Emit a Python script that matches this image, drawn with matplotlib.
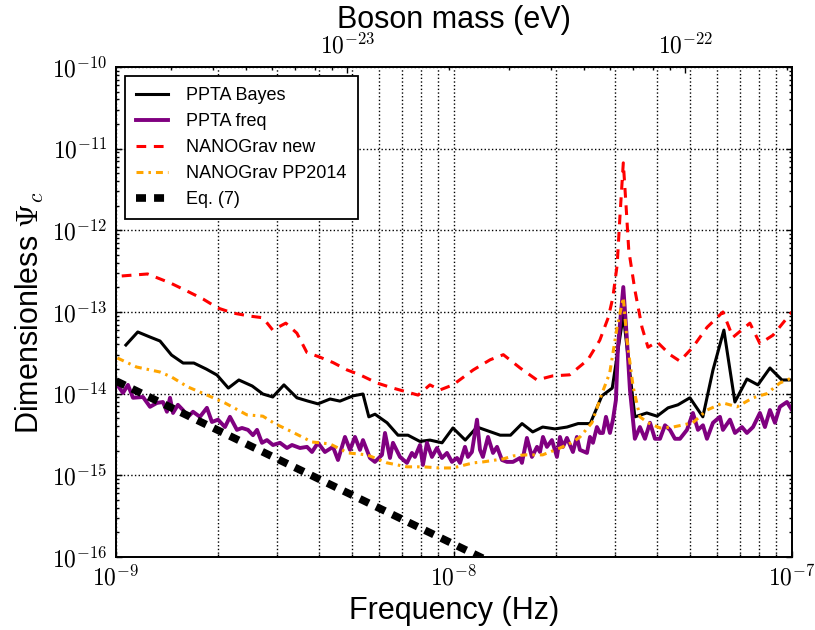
import numpy as np
import matplotlib
matplotlib.use("Agg")
import matplotlib.pyplot as plt
from matplotlib.ticker import FixedLocator, FuncFormatter, NullFormatter

plt.rcParams['font.family'] = ['Liberation Sans', 'DejaVu Sans']
plt.rcParams['mathtext.fontset'] = 'cm'
plt.rcParams['lines.scale_dashes'] = False

# ---------------- data ----------------
# PPTA Bayesian upper limit (frequency in nHz)
f_bayes_nhz = [1.07, 1.16, 1.26, 1.35, 1.46, 1.58, 1.70, 1.85, 1.99, 2.15,
               2.31, 2.53, 2.72, 2.91, 3.14, 3.43, 3.70, 3.96, 4.30, 4.60,
               5.03, 5.38, 5.60, 5.84, 6.34, 6.83, 7.31, 7.93, 8.49, 9.22,
               9.93, 10.8, 11.7, 12.6, 13.7, 14.7, 15.9, 17.1, 18.3, 19.9,
               21.6, 23.3, 25.3, 27.4, 29.4, 31.7, 34.3, 37.2, 39.9, 43.0,
               46.0, 49.9, 54.5, 58.4, 62.9, 67.8, 73.6, 79.3, 86.1, 93.4,
               100.0]
psi_bayes = [3.94e-14, 5.69e-14, 4.94e-14, 4.41e-14, 2.97e-14, 2.37e-14, 2.37e-14, 2.0e-14, 1.69e-14, 1.17e-14,
             1.47e-14, 1.24e-14, 9.9e-15, 9.1e-15, 1.28e-14, 8.9e-15, 8.1e-15, 7.5e-15, 8.6e-15, 8.1e-15,
             9.4e-15, 9.9e-15, 5.2e-15, 5.6e-15, 4.4e-15, 3.1e-15, 3.1e-15, 2.6e-15, 2.7e-15, 2.5e-15,
             3.8e-15, 2.7e-15, 3.9e-15, 3.5e-15, 3.1e-15, 3.1e-15, 4.3e-15, 3.4e-15, 3.9e-15, 3.7e-15,
             3.9e-15, 4.3e-15, 4.3e-15, 9.4e-15, 1.17e-14, 9.2e-14, 5.2e-15, 5.8e-15, 5.3e-15, 6.7e-15,
             7.3e-15, 8.9e-15, 5.2e-15, 1.95e-14, 6.0e-14, 7.9e-15, 1.51e-14, 1.28e-14, 2.06e-14, 1.47e-14,
             1.47e-14]

# PPTA frequentist upper limit
f_freq_nhz = [1.000, 1.049, 1.085, 1.123, 1.202, 1.261, 1.322, 1.377, 1.415, 1.445,
              1.475, 1.525, 1.578, 1.633, 1.690, 1.772, 1.858, 1.923, 2.004, 2.101,
              2.174, 2.280, 2.359, 2.458, 2.543, 2.614, 2.704, 2.797, 2.914, 3.057,
              3.206, 3.317, 3.503, 3.674, 3.802, 3.959, 4.152, 4.386, 4.538, 4.759,
              4.924, 5.095, 5.272, 5.380, 5.642, 5.837, 6.124, 6.251, 6.467, 6.600,
              6.922, 7.259, 7.510, 7.665, 7.932, 8.095, 8.320, 8.608, 8.906, 9.215,
              9.535, 9.865, 10.21, 10.42, 10.78, 11.00, 11.30, 11.70, 11.94, 12.18,
              12.61, 13.05, 13.41, 13.87, 14.35, 14.95, 15.68, 15.89, 16.44, 17.01,
              17.61, 17.97, 18.34, 18.84, 19.49, 20.17, 20.59, 21.02, 21.59, 22.49,
              23.11, 23.59, 24.75, 25.26, 25.78, 26.49, 27.04, 27.59, 28.17, 28.94,
              29.54, 30.15, 30.56, 31.7, 32.50, 33.17, 34.3, 35.5, 36.74, 38.02,
              39.33, 40.7, 42.11, 43.56, 45.07, 46.63, 48.91, 50.94, 52.71, 54.54,
              56.05, 58.40, 61.24, 62.5, 65.56, 67.84, 71.13, 73.58, 76.7, 80.4,
              83.2, 86.09, 89.06, 92.1, 96.65, 100.0]
psi_freq = [1.35e-14, 1.02e-14, 1.28e-14, 8.9e-15, 9.1e-15, 6.9e-15, 7.7e-15, 7.9e-15, 6.0e-15, 8.9e-15,
            5.8e-15, 7.3e-15, 6.3e-15, 5.2e-15, 6.0e-15, 5.2e-15, 6.7e-15, 4.5e-15, 4.8e-15, 3.9e-15,
            5.2e-15, 3.6e-15, 3.8e-15, 3.6e-15, 3.1e-15, 3.6e-15, 2.5e-15, 2.7e-15, 2.35e-15, 2.5e-15,
            2.16e-15, 2.35e-15, 2.16e-15, 2.23e-15, 1.93e-15, 2.5e-15, 1.93e-15, 2.23e-15, 1.54e-15, 2.95e-15,
            2.05e-15, 2.95e-15, 2.05e-15, 2.7e-15, 1.63e-15, 1.46e-15, 1.78e-15, 3.3e-15, 1.63e-15, 2.5e-15,
            1.68e-15, 1.42e-15, 1.88e-15, 1.68e-15, 2.35e-15, 1.34e-15, 2.5e-15, 1.68e-15, 2.16e-15, 1.63e-15,
            1.88e-15, 1.46e-15, 1.63e-15, 1.42e-15, 2.23e-15, 1.68e-15, 1.93e-15, 4.8e-15, 2.05e-15, 1.68e-15,
            2.95e-15, 1.88e-15, 2.23e-15, 1.54e-15, 1.46e-15, 1.46e-15, 1.63e-15, 1.42e-15, 2.87e-15, 1.68e-15,
            2.23e-15, 1.93e-15, 2.95e-15, 2.23e-15, 2.7e-15, 1.68e-15, 2.95e-15, 2.23e-15, 2.87e-15, 1.93e-15,
            2.95e-15, 2.05e-15, 1.88e-15, 2.95e-15, 2.5e-15, 3.9e-15, 3.3e-15, 3.3e-15, 5.2e-15, 3.3e-15,
            4.8e-15, 8.4e-15, 3.73e-14, 2.02e-13, 4.54e-14, 1.11e-14, 2.8e-15, 3.9e-15, 2.8e-15, 4.4e-15,
            2.8e-15, 2.8e-15, 4.1e-15, 3.6e-15, 2.8e-15, 2.8e-15, 3.6e-15, 5.8e-15, 3.6e-15, 4.1e-15,
            2.8e-15, 4.4e-15, 5.2e-15, 3.6e-15, 4.8e-15, 3.3e-15, 3.9e-15, 3.3e-15, 3.9e-15, 5.8e-15,
            3.9e-15, 6.3e-15, 4.4e-15, 6.9e-15, 7.9e-15, 6.3e-15]

# NANOGrav new limit
f_ng_new_nhz = [1.04, 1.24, 1.45, 1.62, 1.81, 2.00, 2.22, 2.49, 2.72, 2.91,
                3.18, 3.43, 3.67, 4.01, 4.39, 4.83, 5.27, 5.92, 6.60, 7.83,
                8.49, 9.09, 9.93, 11.4, 12.8, 14.0, 15.7, 17.6, 19.6, 22.0,
                24.9, 27.0, 28.6, 29.5, 30.4, 31.0, 31.7, 32.3, 32.9, 34.3,
                36.0, 37.5, 39.9, 43.6, 46.6, 50.9, 56.1, 62.5, 66.9, 75.1,
                80.4, 87.9, 100.0]
psi_ng_new = [2.76e-13, 2.92e-13, 2.26e-13, 1.81e-13, 1.44e-13, 1.12e-13, 9.7e-14, 8.9e-14, 8.5e-14, 6.0e-14,
              7.3e-14, 5.5e-14, 3.2e-14, 2.8e-14, 2.4e-14, 1.95e-14, 1.7e-14, 1.35e-14, 1.17e-14, 9.6e-15,
              1.28e-14, 1.11e-14, 1.28e-14, 1.95e-14, 2.6e-14, 3.0e-14, 2.06e-14, 1.47e-14, 1.65e-14, 1.7e-14,
              2.6e-14, 4.5e-14, 8.5e-14, 1.48e-13, 3.76e-13, 1.54e-12, 6.7e-12, 2.0e-12, 5.7e-13, 1.86e-13,
              6.5e-14, 3.7e-14, 4.3e-14, 3.0e-14, 2.5e-14, 3.7e-14, 6.5e-14, 1.0e-13, 4.9e-14, 7.3e-14,
              4.1e-14, 5.2e-14, 1.0e-13]

# NANOGrav PP2014 limit
f_ng_pp_nhz = [1.01, 1.15, 1.35, 1.46, 1.63, 1.86, 2.10, 2.44, 2.72, 2.95,
               3.32, 3.80, 4.30, 4.86, 5.53, 6.34, 7.26, 8.10, 9.09, 9.93,
               11.4, 12.2, 14.0, 15.0, 16.4, 18.3, 20.6, 22.5, 23.6, 25.6,
               27.4, 28.9, 30.4, 31.7, 32.5, 33.9, 35.5, 37.5, 40.7, 44.5,
               50.9, 56.1, 62.5, 68.8, 76.7, 84.3, 92.1, 100.0]
psi_ng_pp = [2.73e-14, 2.12e-14, 1.84e-14, 1.6e-14, 1.21e-14, 9.6e-15, 7.7e-15, 5.5e-15, 5.3e-15, 4.3e-15,
             3.4e-15, 2.56e-15, 2.42e-15, 1.88e-15, 1.78e-15, 1.42e-15, 1.27e-15, 1.27e-15, 1.23e-15, 1.23e-15,
             1.42e-15, 1.46e-15, 1.59e-15, 1.73e-15, 1.78e-15, 1.78e-15, 2.16e-15, 2.56e-15, 2.95e-15, 4.4e-15,
             1.0e-14, 1.79e-14, 6.55e-14, 1.5e-13, 4.54e-14, 1.21e-14, 5.2e-15, 4.4e-15, 3.8e-15, 3.9e-15,
             4.4e-15, 6.3e-15, 7.7e-15, 6.9e-15, 8.9e-15, 1.0e-14, 1.35e-14, 1.56e-14]

# Eq. (7): power law, end points of the straight line in log-log
f_eq7_nhz = [1.0, 100.0]
psi_eq7 = [1.43e-14, 1.43e-18]

# tick positions
freq_major = [1e-9, 1e-8, 1e-7]
psi_major = [1e-16, 1e-15, 1e-14, 1e-13, 1e-12, 1e-11, 1e-10]
mass_major = [1e-23, 1e-22]

NHZ = 1e-9
HBAR_EV_S = 6.582e-16   # reduced Planck constant, eV s


def freq_to_mass(f):
    return np.pi * HBAR_EV_S * np.asarray(f)


def power_label(v, pos):
    return r'$10^{%d}$' % int(round(np.log10(v)))


def minor_positions(lo, hi):
    out = []
    for e in range(int(np.floor(np.log10(lo))) - 1, int(np.ceil(np.log10(hi))) + 1):
        for s in range(2, 10):
            v = s * 10.0 ** e
            if lo < v < hi:
                out.append(v)
    return out


fig = plt.figure(figsize=(8.15, 6.3), dpi=100)
ax = fig.add_axes([0.1423, 0.1159, 0.8294, 0.7778])

ax.plot(np.array(f_bayes_nhz) * NHZ, psi_bayes, color='k', lw=2.2,
        label='PPTA Bayes')
ax.plot(np.array(f_freq_nhz) * NHZ, psi_freq, color='#800080', lw=2.8,
        label='PPTA freq')
ax.plot(np.array(f_ng_new_nhz) * NHZ, psi_ng_new, color='red', lw=2.2,
        ls=(0, (7, 5.5)), label='NANOGrav new')
ax.plot(np.array(f_ng_pp_nhz) * NHZ, psi_ng_pp, color='orange', lw=2.2,
        ls=(0, (5, 3.6, 1.8, 3.6)), label='NANOGrav PP2014')
ax.plot(np.array(f_eq7_nhz) * NHZ, psi_eq7, color='k', lw=5.5,
        ls=(0, (7.2, 5.8)), label='Eq. (7)')

ax.set_xscale('log')
ax.set_yscale('log')
xlo, xhi = 1e-9, 1e-7
ylo, yhi = 1e-16, 1e-10
ax.set_xlim(xlo, xhi)
ax.set_ylim(ylo, yhi)

ax.xaxis.set_major_locator(FixedLocator(freq_major))
ax.xaxis.set_minor_locator(FixedLocator(minor_positions(xlo, xhi)))
ax.yaxis.set_major_locator(FixedLocator(psi_major))
ax.yaxis.set_minor_locator(FixedLocator(minor_positions(ylo, yhi)))
for axis in (ax.xaxis, ax.yaxis):
    axis.set_major_formatter(FuncFormatter(power_label))
    axis.set_minor_formatter(NullFormatter())

ax.tick_params(which='both', direction='in', top=False, right=True,
               width=1.0, labelsize=17, pad=6)
ax.tick_params(which='major', length=4.5)
ax.tick_params(which='minor', length=2.5)

ax.grid(True, which='major', axis='both', color='k', ls=':', lw=1.0)
ax.grid(True, which='minor', axis='x', color='k', ls=':', lw=1.0)

for sp in ax.spines.values():
    sp.set_linewidth(1.3)

ax.set_xlabel('Frequency (Hz)', fontsize=22)
ax.set_ylabel(r'Dimensionless $\Psi_c$', fontsize=22)

# top axis: corresponding boson mass
ax2 = ax.twiny()
ax2.set_xscale('log')
mlo, mhi = freq_to_mass(xlo), freq_to_mass(xhi)
ax2.set_xlim(mlo, mhi)
ax2.xaxis.set_major_locator(FixedLocator(mass_major))
ax2.xaxis.set_minor_locator(FixedLocator(minor_positions(mlo, mhi)))
ax2.xaxis.set_major_formatter(FuncFormatter(power_label))
ax2.xaxis.set_minor_formatter(NullFormatter())
ax2.tick_params(which='both', direction='in', width=1.0, labelsize=17, pad=6)
ax2.tick_params(which='major', length=4.5)
ax2.tick_params(which='minor', length=2.5)
ax2.set_xlabel('Boson mass (eV)', fontsize=22)
for sp in ax2.spines.values():
    sp.set_linewidth(1.3)

leg = ax.legend(loc='upper left', fontsize=13, handlelength=1.8,
                handletextpad=1.0, borderpad=0.6, labelspacing=0.5,
                fancybox=False, framealpha=1.0, edgecolor='k',
                borderaxespad=0.5)
leg.get_frame().set_linewidth(1.3)

fig.savefig('out.png', dpi=100)
